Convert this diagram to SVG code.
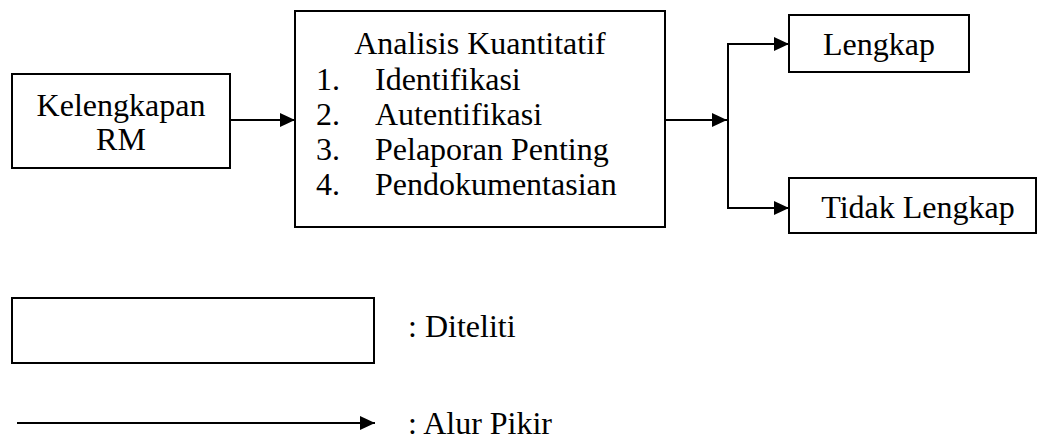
<svg xmlns="http://www.w3.org/2000/svg" width="1038" height="439" viewBox="0 0 1038 439">
<style>
.box{fill:#fff;stroke:#000;stroke-width:2}
.ln{fill:none;stroke:#000;stroke-width:2}
text{font-family:'Liberation Serif','Times New Roman','DejaVu Serif',serif;font-size:32px;fill:#000}
.c{text-anchor:middle}
</style>
<defs>
<marker id="ah" viewBox="0 0 15 14" refX="15" refY="7" markerWidth="15" markerHeight="14" markerUnits="userSpaceOnUse" orient="auto">
<path d="M0,0 L15,7 L0,14 Z" fill="#000"/>
</marker>
</defs>
<g id="connectors">
<line class="ln" x1="230" y1="120" x2="295" y2="120" marker-end="url(#ah)"/>
<line class="ln" x1="665" y1="120" x2="727" y2="120" marker-end="url(#ah)"/>
<polyline class="ln" points="789,44 728,44 728,208 789,208"/>
<line class="ln" x1="728" y1="44" x2="789" y2="44" marker-end="url(#ah)"/>
<line class="ln" x1="728" y1="208" x2="789" y2="208" marker-end="url(#ah)"/>
</g>
<g id="node-kelengkapan">
<rect class="box" x="12" y="74" width="218" height="94"/>
<text class="c" x="121" y="116">Kelengkapan</text>
<text class="c" x="121" y="150">RM</text>
</g>
<g id="node-analisis">
<rect class="box" x="295" y="11" width="370" height="216"/>
<text class="c" x="480" y="54">Analisis Kuantitatif</text>
<text x="316" y="90">1.</text><text x="375" y="90">Identifikasi</text>
<text x="316" y="125">2.</text><text x="375" y="125">Autentifikasi</text>
<text x="316" y="160">3.</text><text x="375" y="160">Pelaporan Penting</text>
<text x="316" y="195">4.</text><text x="375" y="195">Pendokumentasian</text>
</g>
<g id="node-lengkap">
<rect class="box" x="789" y="15" width="180" height="57"/>
<text class="c" x="879" y="55">Lengkap</text>
</g>
<g id="node-tidak-lengkap">
<rect class="box" x="789" y="178" width="247" height="55"/>
<text class="c" x="918" y="218">Tidak Lengkap</text>
</g>
<g id="legend">
<rect class="box" x="12" y="298" width="362" height="65"/>
<text x="408" y="337">: Diteliti</text>
<line class="ln" x1="17" y1="423" x2="375" y2="423" marker-end="url(#ah)"/>
<text x="408" y="434">: Alur Pikir</text>
</g>
</svg>
